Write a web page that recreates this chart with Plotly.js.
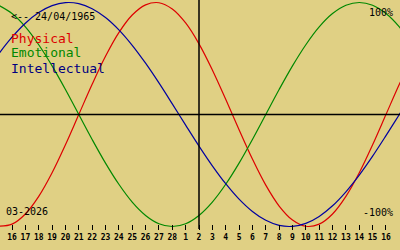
<!DOCTYPE html>
<html>
<head>
<meta charset="utf-8">
<script src="https://cdn.plot.ly/plotly-3.0.1.min.js"></script>
<style>html,body{margin:0;padding:0;background:#e0d084;}#chart{width:400px;height:250px;}</style>
</head>
<body>
<div id="chart"></div>
<script>
// Day index 0 = 16 Feb 2026 ; data run from index -1 (15 Feb) to 30 (18 Mar)
const dayIndex = [-1,0,1,2,3,4,5,6,7,8,9,10,11,12,13,14,15,16,17,18,19,20,21,22,23,24,25,26,27,28,29,30];
const physical = [-0.998,-0.979,-0.888,-0.731,-0.520,-0.270,0,0.270,0.520,0.731,0.888,0.979,0.998,0.942,0.817,0.631,0.398,0.136,-0.136,-0.398,-0.631,-0.817,-0.942,-0.998,-0.979,-0.888,-0.731,-0.520,-0.270,0,0.270,0.520];
const emotional = [0.975,0.901,0.782,0.623,0.434,0.223,0,-0.223,-0.434,-0.623,-0.782,-0.901,-0.975,-1,-0.975,-0.901,-0.782,-0.623,-0.434,-0.223,0,0.223,0.434,0.623,0.782,0.901,0.975,1,0.975,0.901,0.782,0.623];
const intellectual = [0.541,0.690,0.815,0.910,0.972,0.999,0.990,0.945,0.866,0.756,0.618,0.458,0.282,0.095,-0.095,-0.282,-0.458,-0.618,-0.756,-0.866,-0.945,-0.990,-0.999,-0.972,-0.910,-0.815,-0.690,-0.541,-0.372,-0.189,0,0.189];
const tickIndex = [0,1,2,3,4,5,6,7,8,9,10,11,12,13,14,15,16,17,18,19,20,21,22,23,24,25,26,27,28];
const tickLabels = ["16","17","18","19","20","21","22","23","24","25","26","27","28","1","2","3","4","5","6","7","8","9","10","11","12","13","14","15","16"];
const todayIndex = 14;

const mono = "DejaVu Sans Mono, Liberation Mono, monospace";
const bg = "#e0d084";

function trace(y, color) {
  return {x: dayIndex, y: y, mode: "lines", type: "scatter",
    line: {color: color, width: 1.2, shape: "spline", smoothing: 1},
    hoverinfo: "skip", showlegend: false};
}

const data = [trace(physical, "#dd0000"), trace(emotional, "#008800"), trace(intellectual, "#0000a0")];

function ann(text, px, py, color, size, anchor) {
  return {text: text, xref: "paper", yref: "paper", x: px / 400, y: 1 - py / 250,
    xanchor: anchor || "left", yanchor: "middle", showarrow: false,
    font: {family: mono, size: size, color: color}};
}

const layout = {
  width: 400, height: 250,
  margin: {l: 0, r: 0, t: 0, b: 0},
  paper_bgcolor: bg, plot_bgcolor: bg,
  xaxis: {range: [-0.9, 29.05], tickvals: tickIndex, ticktext: tickLabels,
    ticks: "outside", ticklen: 5, tickwidth: 1, tickcolor: "#000",
    anchor: "free", position: 0.104, showline: false, showgrid: false, zeroline: false,
    tickfont: {family: mono, size: 8, color: "#000", weight: "bold"}, fixedrange: true},
  yaxis: {range: [-1.2098, 1.0223], visible: false, showgrid: false, zeroline: false, fixedrange: true},
  shapes: [
    {type: "line", xref: "paper", x0: 0, x1: 1, yref: "y", y0: 0, y1: 0, line: {color: "#000", width: 1.5}},
    {type: "line", xref: "x", x0: todayIndex, x1: todayIndex, yref: "y", y0: -1.022, y1: 1.05, line: {color: "#000", width: 1.5}}
  ],
  annotations: [
    ann("&lt;-- 24/04/1965", 9, 16, "#000", 10),
    ann("Physical", 9, 38, "#dd0000", 13),
    ann("Emotional", 9, 53, "#008800", 13),
    ann("Intellectual", 9, 68, "#000080", 13),
    ann("100%", 395, 12, "#000", 10, "right"),
    ann("-100%", 395, 212, "#000", 10, "right"),
    ann("03-2026", 4, 211, "#000", 10)
  ]
};

Plotly.newPlot("chart", data, layout, {staticPlot: true, displayModeBar: false});
</script>
</body>
</html>
